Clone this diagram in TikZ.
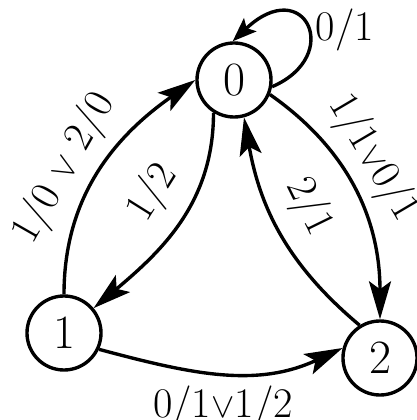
\documentclass[tikz,border=0pt]{standalone}
\usepackage{tikz}
\usetikzlibrary{arrows.meta, positioning}
\tikzset{
    state/.style={draw, circle, line width=2.4pt, minimum size=1.85cm, inner sep=0pt,
                  font=\fontsize{34}{40}\selectfont},
    trans/.style={line width=2.4pt, -{Stealth[length=0.95cm, width=0.55cm, inset=0.2cm]}},
    lbl/.style={font=\fontsize{30}{36}\selectfont, inner sep=3pt}
}

\begin{document}
\begin{tikzpicture}[x=0.025cm, y=0.025cm]
    \useasboundingbox (0,0) rectangle (416,420);
    % states
    \node[state] (n0) at (234,340) {0};
    \node[state] (n1) at (64,87) {1};
    \node[state] (n2) at (380,62) {2};

    % transitions
    \draw[line width=2.4pt, -{Stealth[length=0.6cm, width=0.45cm, inset=0.12cm]}]
        (n0.-10) .. controls +(72,31) and +(72,68) .. (n0.92);
    \node[lbl] (l00) at (345,390) {0/1};

    \draw[trans] (n1.north) to[out=90, in=215]
        node[lbl, sloped, above=3pt, pos=0.44] (l10) {1/0 $\vee$ 2/0} (n0.west);
    \draw[trans] (n0.-122) to[out=-90, in=40]
        node[lbl, sloped, above=8pt, pos=0.45] (l01) {1/2} (n1);
    \draw[trans] (n0.-22) to[out=-35, in=90]
        node[lbl, sloped, above=3pt, pos=0.42] (l02) {1/1$\vee$0/1} (n2.north);
    \draw[trans] (n2.122) to[out=140, in=-80]
        node[lbl, sloped, above=7pt, pos=0.55] (l20) {2/1} (n0.-75);
    \draw[trans] (n1.-25) to[out=-15, in=205]
        node[lbl, below=5pt, pos=0.5] (l12) {0/1$\vee$1/2} (n2.165);
\end{tikzpicture}
\end{document}
